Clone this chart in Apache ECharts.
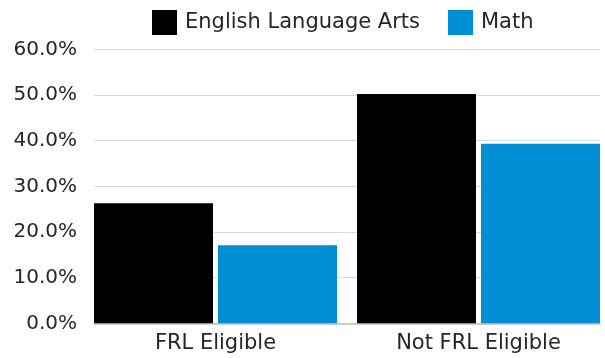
<!DOCTYPE html>
<html>
<head>
<meta charset="utf-8">
<script src="https://cdn.jsdelivr.net/npm/echarts@6/dist/echarts.min.js"></script>
<style>
  html, body { margin: 0; padding: 0; background: #fff; }
  #chart { width: 605px; height: 358px; }
</style>
</head>
<body>
<div id="chart"></div>
<script>
// Proficiency rates by free/reduced-price lunch eligibility
const categories = ['FRL Eligible', 'Not FRL Eligible'];
const elaValues = [26.3, 50.2];
const mathValues = [17.1, 39.3];
const seriesNames = ['English Language Arts', 'Math'];
const yTicks = { min: 0, max: 60, interval: 10 };

const FONT = '"DejaVu Sans", sans-serif';
const TEXT_COLOR = '#262626';

const chart = echarts.init(document.getElementById('chart'), null, { renderer: 'canvas' });

chart.setOption({
  animation: false,
  backgroundColor: '#ffffff',
  textStyle: { fontFamily: FONT },
  legend: {
    data: seriesNames,
    left: 152,
    top: 10,
    padding: 0,
    itemWidth: 25,
    itemHeight: 25,
    itemGap: 28,
    icon: 'rect',
    textStyle: { fontFamily: FONT, fontSize: 21, color: TEXT_COLOR, padding: [0, 0, 0, 3] }
  },
  grid: [
    // value axis, gridlines and baseline
    { left: 94, right: 5, top: 49.3, bottom: 34.7, outerBoundsMode: 'none' },
    // bar groups and category labels (band runs past the right edge)
    { left: 84, width: 526, top: 49.3, bottom: 34.7, outerBoundsMode: 'none' }
  ],
  xAxis: [
    {
      gridIndex: 0, type: 'category', data: categories,
      axisLine: { show: true, lineStyle: { color: '#bfbfbf', width: 1.5 } },
      axisTick: { show: false }, axisLabel: { show: false }
    },
    {
      gridIndex: 1, type: 'category', data: categories,
      axisLine: { show: false }, axisTick: { show: false },
      axisLabel: { fontFamily: FONT, fontSize: 21, color: TEXT_COLOR, margin: 10 }
    }
  ],
  yAxis: [
    {
      gridIndex: 0, type: 'value',
      min: yTicks.min, max: yTicks.max, interval: yTicks.interval,
      axisLine: { show: false }, axisTick: { show: false },
      splitLine: { lineStyle: { color: '#d9d9d9', width: 1.2 } },
      axisLabel: {
        fontFamily: FONT, fontSize: 20, color: TEXT_COLOR, margin: 17,
        formatter: v => v.toFixed(1) + '%'
      }
    },
    {
      gridIndex: 1, type: 'value',
      min: yTicks.min, max: yTicks.max, interval: yTicks.interval,
      show: false
    }
  ],
  series: [
    {
      name: seriesNames[0], type: 'bar', xAxisIndex: 1, yAxisIndex: 1,
      data: elaValues, barWidth: 119, barGap: '4.2%',
      itemStyle: { color: '#000000' }
    },
    {
      name: seriesNames[1], type: 'bar', xAxisIndex: 1, yAxisIndex: 1,
      data: mathValues, barWidth: 119, barGap: '4.2%',
      itemStyle: { color: '#008fd5' }
    }
  ]
});
</script>
</body>
</html>
